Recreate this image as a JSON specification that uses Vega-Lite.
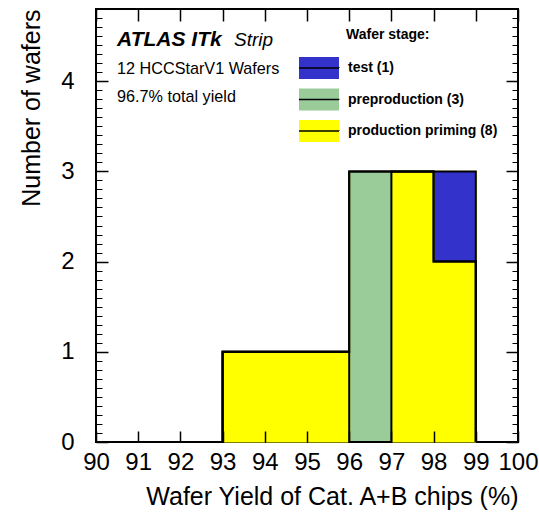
{
  "$schema": "https://vega.github.io/schema/vega-lite/v6.json",
  "width": 422,
  "height": 433,
  "autosize": {"type": "none"},
  "padding": {"left": 96, "top": 9, "right": 21, "bottom": 74},
  "background": "white",
  "config": {
    "font": "Liberation Sans",
    "view": {"stroke": "black", "strokeWidth": 2, "fill": null},
    "axis": {"grid": false, "domainColor": "black", "labelColor": "black", "titleColor": "black", "labelFont": "Liberation Sans", "titleFont": "Liberation Sans"}
  },
  "datasets": {
    "bins": [
      {"stage": "production priming", "lo": 93, "hi": 94, "count": 1},
      {"stage": "production priming", "lo": 94, "hi": 95, "count": 1},
      {"stage": "production priming", "lo": 95, "hi": 96, "count": 1},
      {"stage": "preproduction", "lo": 96, "hi": 97, "count": 3},
      {"stage": "production priming", "lo": 97, "hi": 98, "count": 3},
      {"stage": "production priming", "lo": 98, "hi": 99, "count": 2},
      {"stage": "test", "lo": 98, "hi": 99, "count": 1}
    ],
    "outline": [
      {"series": "all", "edge": 92, "n": 0},
      {"series": "all", "edge": 93, "n": 1},
      {"series": "all", "edge": 94, "n": 1},
      {"series": "all", "edge": 95, "n": 1},
      {"series": "all", "edge": 96, "n": 3},
      {"series": "all", "edge": 97, "n": 3},
      {"series": "all", "edge": 98, "n": 3},
      {"series": "all", "edge": 99, "n": 0},
      {"series": "yg", "edge": 92, "n": 0},
      {"series": "yg", "edge": 93, "n": 1},
      {"series": "yg", "edge": 94, "n": 1},
      {"series": "yg", "edge": 95, "n": 1},
      {"series": "yg", "edge": 96, "n": 3},
      {"series": "yg", "edge": 97, "n": 3},
      {"series": "yg", "edge": 98, "n": 2},
      {"series": "yg", "edge": 99, "n": 0},
      {"series": "y", "edge": 92, "n": 0},
      {"series": "y", "edge": 93, "n": 1},
      {"series": "y", "edge": 94, "n": 1},
      {"series": "y", "edge": 95, "n": 1},
      {"series": "y", "edge": 96, "n": 0},
      {"series": "y", "edge": 97, "n": 3},
      {"series": "y", "edge": 98, "n": 2},
      {"series": "y", "edge": 99, "n": 0}
    ],
    "notes": [{"atlas": "ATLAS ITk", "strip": "Strip", "wafers": "12 HCCStarV1 Wafers", "yield": "96.7% total yield"}]
  },
  "resolve": {"axis": {"x": "independent", "y": "independent"}},
  "layer": [
    {
      "data": {"name": "bins"},
      "mark": {"type": "bar", "binSpacing": 0, "stroke": "#ffff00", "strokeWidth": 1},
      "encoding": {
        "x": {
          "field": "lo", "type": "quantitative", "bin": {"binned": true, "step": 1},
          "scale": {"domain": [90, 100], "nice": false, "zero": false},
          "axis": {"orient": "bottom", "values": [90, 91, 92, 93, 94, 95, 96, 97, 98, 99, 100], "format": "d", "zindex": 1,
            "ticks": false, "tickSize": 0, "labelFontSize": 24, "labelPadding": 8, "labelFlush": false, "labelOverlap": false, "labelBound": false,
            "grid": true, "gridColor": "black", "gridOpacity": 1, "gridWidth": 1.5, "gridDash": [12, 1000],
            "domain": false,
            "title": "Wafer Yield of Cat. A+B chips (%)", "titleFontSize": 25, "titleFontWeight": "normal", "titleAnchor": "end", "titlePadding": 10}
        },
        "x2": {"field": "hi"},
        "y": {
          "field": "count", "type": "quantitative", "stack": "zero",
          "scale": {"domain": [0, 4.8], "nice": false},
          "axis": {"orient": "left", "values": [0, 1, 2, 3, 4], "format": "d", "zindex": 1,
            "ticks": false, "tickSize": 0, "labelFontSize": 24, "labelPadding": 22, "labelFlush": false, "labelOverlap": false, "labelBound": false,
            "grid": true, "gridColor": "black", "gridOpacity": 1, "gridWidth": 1.5, "gridDash": [12, 1000],
            "domain": false,
            "title": "Number of wafers", "titleFontSize": 25, "titleFontWeight": "normal", "titleAnchor": "end", "titlePadding": 16}
        },
        "fill": {
          "field": "stage", "type": "nominal",
          "scale": {"domain": ["test", "preproduction", "production priming"], "range": ["#3333cc", "#99cc99", "#ffff00"]},
          "legend": {
            "orient": "none", "legendX": 207, "legendY": 19, "padding": 0,
            "title": "Wafer stage:", "titleFontSize": 14, "titleFontWeight": "bold", "titleColor": "black", "titlePadding": 10,
            "labelFontSize": 14, "labelFontWeight": "bold", "labelColor": "black", "labelOffset": 13,
            "labelExpr": "datum.label == 'test' ? 'test (1)' : datum.label == 'preproduction' ? 'preproduction (3)' : 'production priming (8)'",
            "symbolType": "M-1.333,0H1.333V0.733H-1.333V-0.733H1.333V0Z", "symbolSize": 900, "symbolStrokeWidth": 1.5, "symbolDash": [40, 1000], "symbolStrokeColor": "black",
            "rowPadding": 1.5,
            "encode": {
              "symbols": {"update": {"stroke": {"value": "black"}, "strokeWidth": {"value": 1.5}, "strokeDash": {"value": [40, 1000]}, "opacity": {"value": 1}, "fillOpacity": {"value": 1}}},
              "title": {"update": {"dx": {"value": 43}}}
            }
          }
        },
        "order": {"field": "stage", "sort": "ascending"}
      }
    },
    {
      "data": {"name": "outline"},
      "transform": [{"filter": "datum.series == 'all'"}],
      "mark": {"type": "line", "interpolate": "step-after", "color": "black", "strokeWidth": 2, "strokeJoin": "miter"},
      "encoding": {
        "x": {"field": "edge", "type": "quantitative", "scale": {"domain": [90, 100], "nice": false, "zero": false},
          "axis": {"orient": "bottom", "zindex": 1, "tickCount": 50, "ticks": false, "labels": false, "domain": false, "title": null,
            "grid": true, "gridColor": "black", "gridOpacity": 1, "gridWidth": 1, "gridDash": [6, 1000]}},
        "y": {"field": "n", "type": "quantitative", "scale": {"domain": [0, 4.8], "nice": false},
          "axis": {"orient": "left", "zindex": 1, "tickCount": 48, "ticks": false, "labels": false, "domain": false, "title": null,
            "grid": true, "gridColor": "black", "gridOpacity": 1, "gridWidth": 1, "gridDash": [6, 1000]}}
      }
    },
    {
      "data": {"name": "outline"},
      "transform": [{"filter": "datum.series == 'yg'"}],
      "mark": {"type": "line", "interpolate": "step-after", "color": "black", "strokeWidth": 2, "strokeJoin": "miter"},
      "encoding": {
        "x": {"field": "edge", "type": "quantitative", "scale": {"domain": [90, 100], "nice": false, "zero": false},
          "axis": {"orient": "top", "zindex": 1, "values": [90, 91, 92, 93, 94, 95, 96, 97, 98, 99, 100], "ticks": false, "labels": false, "domain": false, "title": null,
            "grid": true, "gridColor": "black", "gridOpacity": 1, "gridWidth": 1.5, "gridDash": [11, 1000]}},
        "y": {"field": "n", "type": "quantitative", "scale": {"domain": [0, 4.8], "nice": false},
          "axis": {"orient": "right", "zindex": 1, "values": [0, 1, 2, 3, 4], "ticks": false, "labels": false, "domain": false, "title": null,
            "grid": true, "gridColor": "black", "gridOpacity": 1, "gridWidth": 1.5, "gridDash": [12, 1000]}}
      }
    },
    {
      "data": {"name": "outline"},
      "transform": [{"filter": "datum.series == 'y'"}],
      "mark": {"type": "line", "interpolate": "step-after", "color": "black", "strokeWidth": 2, "strokeJoin": "miter"},
      "encoding": {
        "x": {"field": "edge", "type": "quantitative", "scale": {"domain": [90, 100], "nice": false, "zero": false},
          "axis": {"orient": "top", "zindex": 1, "tickCount": 50, "ticks": false, "labels": false, "domain": false, "title": null,
            "grid": true, "gridColor": "black", "gridOpacity": 1, "gridWidth": 1, "gridDash": [6, 1000]}},
        "y": {"field": "n", "type": "quantitative", "scale": {"domain": [0, 4.8], "nice": false},
          "axis": {"orient": "right", "zindex": 1, "tickCount": 48, "ticks": false, "labels": false, "domain": false, "title": null,
            "grid": true, "gridColor": "black", "gridOpacity": 1, "gridWidth": 1, "gridDash": [6, 1000]}}
      }
    },
    {
      "data": {"name": "notes"},
      "mark": {"type": "text", "fontSize": 21, "fontWeight": "bold", "fontStyle": "italic", "align": "left", "baseline": "middle", "color": "black"},
      "encoding": {
        "text": {"field": "atlas"},
        "x": {"datum": 90.5, "type": "quantitative", "axis": null},
        "y": {"datum": 4.46, "type": "quantitative", "axis": null}
      }
    },
    {
      "data": {"name": "notes"},
      "mark": {"type": "text", "fontSize": 19, "fontStyle": "italic", "align": "left", "baseline": "middle", "color": "black"},
      "encoding": {
        "text": {"field": "strip"},
        "x": {"datum": 93.27, "type": "quantitative", "axis": null},
        "y": {"datum": 4.46, "type": "quantitative", "axis": null}
      }
    },
    {
      "data": {"name": "notes"},
      "mark": {"type": "text", "fontSize": 16.2, "align": "left", "baseline": "middle", "color": "black"},
      "encoding": {
        "text": {"field": "wafers"},
        "x": {"datum": 90.5, "type": "quantitative", "axis": null},
        "y": {"datum": 4.135, "type": "quantitative", "axis": null}
      }
    },
    {
      "data": {"name": "notes"},
      "mark": {"type": "text", "fontSize": 16.2, "align": "left", "baseline": "middle", "color": "black"},
      "encoding": {
        "text": {"field": "yield"},
        "x": {"datum": 90.5, "type": "quantitative", "axis": null},
        "y": {"datum": 3.825, "type": "quantitative", "axis": null}
      }
    }
  ]
}
